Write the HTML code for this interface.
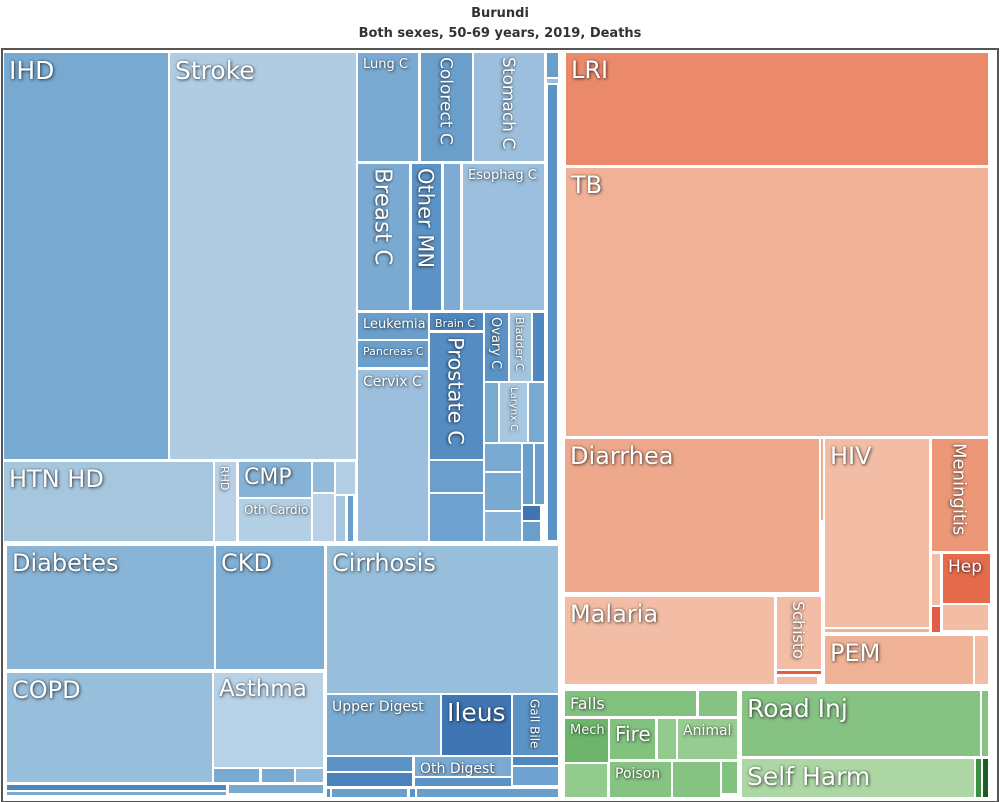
<!DOCTYPE html>
<html><head><meta charset="utf-8"><style>
body{margin:0;width:1000px;height:802px;background:#fff;position:relative;overflow:hidden;font-family:"DejaVu Sans","Liberation Sans",sans-serif}
#title{position:absolute;left:0;width:1000px;text-align:center;font-weight:bold;font-size:13px;color:#333;line-height:20px;top:4px}
#frame{position:absolute;left:1px;top:48px;width:994px;height:751px;border:2px solid #555;border-bottom:1px solid #555;box-sizing:content-box}
.r{position:absolute;box-sizing:border-box;overflow:hidden;color:#fff;text-shadow:1px 1px 3px rgba(0,0,0,.6),0 0 2px rgba(0,0,0,.4);white-space:nowrap;line-height:1}
.r span{position:absolute;left:5px;top:5px}
.r span.v{writing-mode:vertical-rl;top:4px}
</style></head><body>
<div id="title">Burundi<br>Both sexes, 50-69 years, 2019, Deaths</div>
<div id="frame"></div>
<div id="tm"></div>
<script>
// [label, x1, y1, x2, y2, color, fontSize, vertical]
const causes=[
["IHD",4,53,168,459,"#78a9d0",25],
["Stroke",170,53,356,459,"#afcce3",25],
["Lung C",358,53,418,161,"#7aaad2",13],
["Colorect C",421,53,472,161,"#6a9fcc",17,1],
["Stomach C",474,53,544,161,"#9bbfdc",17,1],
["Breast C",358,164,409,310,"#7aaad2",23,1],
["Other MN",412,164,441,310,"#5b93c6",21,1],
["",444,164,460,310,"#7eabd3"],
["Esophag C",463,164,544,310,"#9bbfdc",13],
["Leukemia",358,313,428,339,"#6a9fcc",13],
["Pancreas C",358,341,428,367,"#6a9fcc",11],
["Cervix C",358,370,428,541,"#9bbfdc",14],
["Brain C",430,313,483,330,"#4f87c0",11],
["Prostate C",430,333,483,459,"#558dc3",21,1],
["",430,461,483,492,"#6a9fcc"],["",430,494,483,541,"#6fa2cf"],
["Ovary C",485,313,508,381,"#5b93c6",13,1],
["Bladder C",510,313,531,381,"#a3c4df",11,1],
["",533,313,544,381,"#4f87c0"],
["",485,383,498,442,"#77a9d1"],["Larynx C",500,383,527,442,"#a8c8e2",10,1],["",529,383,544,442,"#79aad2"],
["",485,444,521,471,"#79aad2"],["",485,473,521,510,"#79aad2"],["",485,512,521,541,"#8ab5d8"],
["",523,444,533,504,"#6a9fcc"],["",535,444,544,504,"#6a9fcc"],["",523,506,540,520,"#3f75b3"],["",523,522,540,541,"#6a9fcc"],
["",547,53,558,77,"#6a9fcc"],["",547,79,558,83,"#9bbfdc"],["",548,85,557,540,"#5b93c6"],
["HTN HD",4,462,213,541,"#a6c6de",24],
["RHD",215,462,236,541,"#b8d1e6",11,1],
["CMP",239,462,311,497,"#86b2d6",22],
["Oth Cardio",239,499,311,541,"#b3cfe4",12],
["",313,462,334,492,"#93bbdb"],["",313,494,334,541,"#b8d1e6"],["",336,462,355,494,"#b3cfe4"],["",336,496,345,541,"#a6c6de"],["",348,496,353,541,"#6a9fcc"],
["Diabetes",7,546,214,669,"#87b4d7",24],
["CKD",216,546,324,669,"#80afd5",24],
["COPD",7,673,212,782,"#97bedb",24],
["Asthma",214,673,323,767,"#b7d1e6",23],
["",214,769,259,782,"#79aad2"],["",262,769,294,782,"#79aad2"],["",296,769,323,782,"#93bbdb"],
["",7,785,226,790,"#4f87c0"],["",7,792,226,795,"#79aad2"],["",229,785,323,793,"#79aad2"],
["Cirrhosis",327,546,558,693,"#97bedb",24],
["Upper Digest",327,695,440,755,"#7aaad2",14],
["Ileus",442,695,511,755,"#3f75b3",25],
["Gall Bile",513,695,558,755,"#5b93c6",12,1],
["",327,757,412,771,"#5b93c6"],["",327,773,412,786,"#4a82bd"],
["Oth Digest",415,757,511,776,"#7aaad2",14],["",415,778,511,786,"#5b93c6"],
["",513,757,558,765,"#4f87c0"],["",513,767,558,785,"#6fa2cf"],
["",327,789,330,797,"#5b93c6"],["",332,789,407,797,"#6a9fcc"],["",410,789,415,797,"#5b93c6"],["",417,789,558,797,"#6a9fcc"],
["LRI",566,53,988,165,"#eb8a6a",24],
["TB",566,168,988,436,"#f0b196",24],
["Diarrhea",565,439,819,592,"#eea98c",24],
["",821,439,823,520,"#eea98c"],
["HIV",825,439,929,627,"#f2bda4",24],
["",825,629,929,632,"#f0b196"],
["Meningitis",932,439,988,551,"#ec9878",18,1],
["",932,554,940,605,"#f2bda4"],
["Hep",943,554,990,603,"#e66b4d",17],
["",932,607,940,632,"#e35c45"],["",943,605,988,630,"#f2bda4"],
["Malaria",565,597,774,684,"#f2bda4",24],
["Schisto",777,597,821,669,"#f2bda4",16,1],
["",777,671,821,674,"#e35c45"],["",777,677,817,684,"#f2bda4"],
["PEM",825,636,973,684,"#f0b296",24],
["",975,636,988,684,"#f2bda4"],
["Falls",565,691,696,716,"#82c27f",16],["",699,691,737,716,"#86c383"],
["Mech",565,719,608,762,"#6db56b",13],
["Fire",610,719,655,759,"#82c27f",20],
["",658,719,676,759,"#93ca8e"],
["Animal",678,719,737,759,"#97cc91",14],
["",565,764,607,797,"#93ca8e"],
["Poison",610,762,671,797,"#86c383",14],
["",673,762,720,797,"#86c383"],["",722,762,737,793,"#82c27f"],
["Road Inj",742,691,980,756,"#86c383",25],["",982,691,988,756,"#86c383"],
["Self Harm",742,759,974,797,"#acd7a4",25],["",976,759,981,797,"#3a8f44"],["",983,759,988,797,"#1d5c26"]
];
const tm=document.getElementById('tm');
causes.forEach(c=>{
  const d=document.createElement('div');
  d.className='r';
  
  
  d.style.left=c[1]+'px';d.style.top=c[2]+'px';
  d.style.width=(c[3]-c[1])+'px';d.style.height=(c[4]-c[2])+'px';
  d.style.background=c[5];
  d.style.boxShadow='0 0 0 1px rgba(255,255,255,0.9)';
  if(c[0]){
    const s=document.createElement('span');
    s.textContent=c[0];
    s.style.fontSize=c[6]+'px';
    if(c[7]){s.className='v';s.style.left=Math.max(1,((c[3]-c[1])-c[6]*1.15)/2)+'px';}
    d.appendChild(s);
  }
  tm.appendChild(d);
});
</script>
</body></html>
